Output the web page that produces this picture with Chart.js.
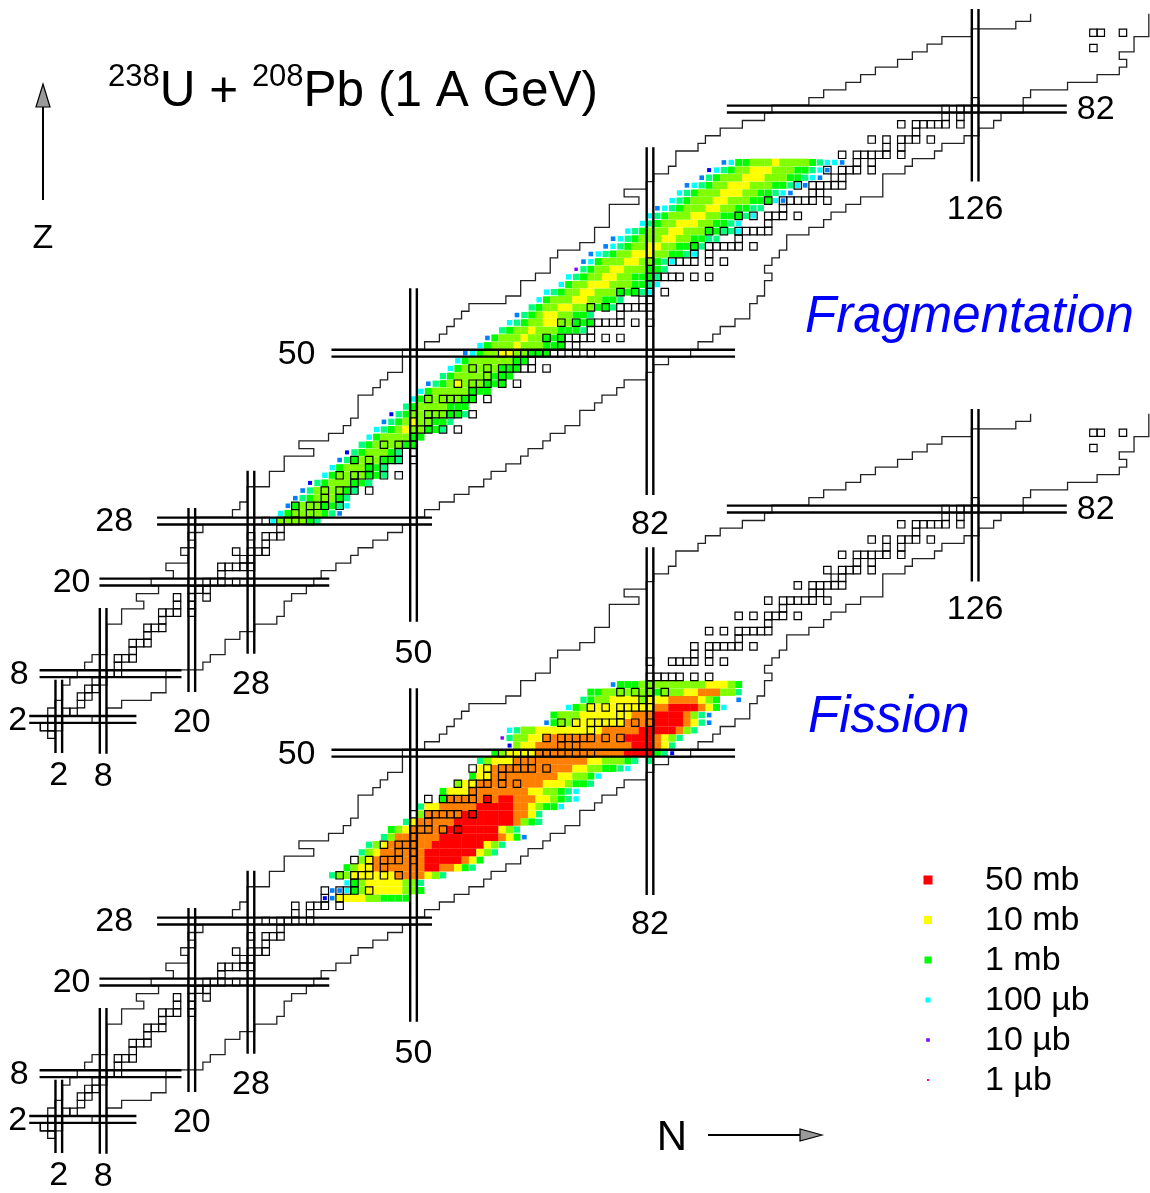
<!DOCTYPE html>
<html lang="en">
<head>
<meta charset="utf-8">
<title>238U + 208Pb (1 A GeV)</title>
<script src="https://cdn.jsdelivr.net/npm/chart.js@4.4.1/dist/chart.umd.min.js"></script>
<style>
  html, body { margin: 0; padding: 0; background: #ffffff; }
  #chartNuclides { display: block; }
</style>
</head>
<body>
<canvas id="chartNuclides" width="1150" height="1193" style="width:1150px;height:1193px"></canvas>
<script>
// magic numbers (double lines) and how far each line runs
const magicN = [2, 8, 20, 28, 50, 82, 126];
const magicNZFrom = [-2.4, -2.5, 5.6, 10.6, 14.8, 31.4, 72.5];
const magicNZTo = [7.2, 16.6, 29.7, 34.6, 58.5, 77.0, 95.1];
const magicZ = [2, 8, 20, 28, 50, 82];
const magicZNFrom = [-2.0, -0.6, 7.5, 15.3, 38.9, 92.4];
const magicZNTo = [12.5, 18.6, 38.6, 52.5, 93.5, 138.4];

// limits of the known nuclides, Z = 1 .. 94
const lightestN = [0,1,1,2,3,3,4,5,6,7, 9,9,9,9,11,11,14,13,16,15, 18,17,20,19,21,20,22,21,26,27,
  28,28,31,31,33,33,37,35,39,41, 42,43,43,43,45,46,47,49,49,49, 52,54,55,56,57,58,63,65,65,67,
  69,69,70,73,75,75,77,77,77,81, 79,82,83,85,86,86,89,90,92,95, 98,99,104,106,109,111,113,116,118,120,
  122,126,132,134];
const heaviestN = [2,6,8,10,14,16,16,16,21,22, 24,24,26,28,31,32,32,33,35,36, 37,39,41,42,44,46,48,50,51,53,
  55,57,59,60,62,64,65,67,68,70, 72,72,74,75,77,78,81,82,84,87, 88,90,91,93,95,95,96,97,97,98,
  97,98,99,100,100,103,105,106,108,110, 113,113,113,116,117,120,121,124,126,128, 129,132,132,133,138,142,145,146,145,147,
  147,149,149,149];

// stable (and primordial) nuclides: N values, index = Z
const stableN = [
  [1], [0,1], [1,2], [3,4], [5], [5,6], [6,7], [7,8], [8,9,10], [10],
  [10,11,12], [12], [12,13,14], [14], [14,15,16], [16], [16,17,18,20], [18,20], [18,20,22], [20,21,22],
  [20,22,23,24,26,28], [24], [24,25,26,27,28], [27,28], [26,28,29,30], [30], [28,30,31,32], [32], [30,32,33,34,36], [34,36],
  [34,36,37,38,40], [38,40], [38,40,41,42,44], [42], [40,42,43,44,46,48], [44,46], [42,44,46,47,48,50], [48,50], [46,48,49,50], [50],
  [50,51,52,54,56], [52], [50,52,53,54,55,56,58], [], [52,54,55,56,57,58,60], [58], [56,58,59,60,62,64], [60,62], [58,60,62,63,64,65,66,68], [64,66],
  [62,64,65,66,67,68,69,70,72,74], [70,72], [68,70,71,72,73,74,76,78], [74], [70,72,74,75,76,77,78,80,82], [78], [74,76,78,79,80,81,82], [81,82], [78,80,82,84], [82],
  [82,83,84,85,86,88,90], [], [82,85,86,87,88,90,92], [88,90], [88,90,91,92,93,94,96], [94], [90,92,94,95,96,97,98], [98], [94,96,98,99,100,102], [100],
  [98,100,101,102,103,104,106], [104,105], [102,104,105,106,107,108], [107,108], [106,108,109,110,112], [110,112], [108,110,111,112,113,114,116], [114,116], [112,114,116,117,118,120], [118],
  [116,118,119,120,121,122,124], [122,124], [122,124,125,126], [126], [], [], [], [], [], [],
  [142], [], [142,143,146]
];

// cross-section levels (code letter -> mb)
const levelCode = ['r', 'o', 'y', 'l', 'g', 'm', 'c', 'a', 'b', 'v'];
const levelMb = [50, 20, 10, 3, 1, 0.3, 0.1, 0.03, 0.02, 0.01];

// fragmentation residues: Z, first N, cells along N (letter + repeat count)
const fragZ = [28,29,30,31,32,33,34,35,36,37, 38,39,40,41,42,43,44,45,46,47, 48,49,50,51,52,53,54,55,56,57,
  58,59,60,61,62,63,64,65,66,67, 68,69,70,71,72,73,74,75];
const fragN0 = [31,32,33,34,35,36,38,39,40,41, 43,44,45,46,47,49,50,51,52,54, 55,56,57,59,60,62,63,64,66,67,
  68,70,71,72,73,74,76,77,79,81, 82,83,85,86,87,89,90,92];
const fragRows = [
  'c l4 g m', 'c g l4 g m a', 'a g l3 g2 m c', 'a m g l3 g m', 'a m l4 g m',
  'b m g l3 g2 m', 'c g l4 g2 m', 'c g l3 g2 m', 'a m g l3 g2 m', 'b m g l3 g m',
  'm g l4 g2', 'c g l4 g2', 'c m g l y l2 g2 m', 'a m g l y l2 g2 m', 'b m g l5 g2 m',
  'm g l4 g3', 'c g l5 g2', 'c g l5 g3', 'a m g l y l3 g3', 'm g l5 g3',
  'c g l5 g3', 'c g l6 g2', 'a c g l2 y2 l2 g3', 'c g l3 y l3 g3', 'a g l3 y l2 g3',
  'm g l2 y l3 g3 m', 'c m g l2 y2 l2 g3', 'a m g l y2 l2 g2 m', 'm g l2 y2 l3 g2 m', 'c g l3 y2 l2 g2 m',
  'c m g l2 y2 l3 g3 m c', 'c g l2 y3 l3 g2 m c', 'c m g l2 y2 l2 g3 m', 'v m g l2 y2 l3 g2 m', 'a c g l3 y2 l2 g m c',
  'a c m g l2 y3 l2 g2 m c', 'a c m g l2 y2 l2 g3 m', 'a c m g l3 y2 l2 g2 m2', 'c m g l3 y2 l3 g2 m2 c', 'c m g l2 y3 l2 g2 m c',
  'c m g l3 y2 l2 g3 m c', 'a c m g l3 y2 l2 g2 m2', 'c m g l3 y2 l3 g3 c a', 'c m g l3 y3 l2 g2 m c a', 'a c m g l2 y3 l3 g2 m c a',
  'a m g l3 y3 l3 g2 m c a', 'b c m g l2 y3 l3 g2 m c a', 'a c g2 l3 y l4 g m c2 a'
];

// fission residues
const fissZ = [31,32,33,34,35,36,37,38,39,40, 41,42,43,44,45,46,47,48,49,50, 51,52,53,54,55,56,57,58,59];
const fissN0 = [38,39,41,39,41,43,43,44,46,47, 49,51,51,54,54,56,58,59,59,61, 63,62,63,68,69,71,73,74,77];
const fissRows = [
  'b a y4 l2 g4', 'a2 c g l y5 l2 g', 'c g l y5 l2 m', 'm l2 y6 o4 y l m', 'g l y2 o7 r2 o2 y g m',
  'l y o7 r5 o y g', 'm l y o6 r7 y l m', 'm l y o6 r7 y l m', 'm l o6 r8 o y g a', 'g l y o5 r7 y l m',
  'm y o5 r8 o l g m', 'l o5 r7 o2 y m', 'm y2 o5 r5 o2 y l g2 c', 'g o5 r o r2 o3 y2 l g m c', 'g y3 o8 y2 l2 g m c',
  'l y2 o9 y3 l g2 m', 'g y2 o9 y2 l2 g c', 'y2 o11 y2 l2 g2 m c', 'm l y3 o10 y2 l3 g m . m', 'g l y4 o12 r4 g m b',
  'b l y2 o13 r3 o y m', 'v m l2 y2 o11 r4 o y l m', 'c m l2 y9 o5 r5 o l m', 'a g l2 y7 o4 r4 o y m a', 'g l3 y7 o3 r4 o l m a',
  'c g l y9 o2 r4 o y g c', 'm g l2 y4 l y3 o4 y l g . . a', 'g2 l7 g l3 y2 o3 l2 m', 'a g3 l9 y3 l g'
];

const legendLabel = ['50 mb', '10 mb', '1 mb', '100 µb', '10 µb', '1 µb'];
const legendMb = [50, 10, 1, 0.1, 0.01, 0.001];

// ---- style ----
const levelColor = ['#ff0000', '#ff8000', '#ffff00', '#80ff00', '#00ff00', '#00ff80', '#00ffff', '#0080ff', '#0000ff', '#8000ff'];
const levelSide = [7.8, 7.8, 7.6, 7.6, 7.0, 6.3, 5.4, 4.6, 4.0, 3.4];
const legendColor = ['#ff0000', '#ffff00', '#00ff00', '#00ffff', '#8000ff', '#ff0080'];
const legendSide = [9, 8, 7, 5, 3.5, 2];
const nLabelGap = [23, 23, 31, 31, 32, 30, 28];
const zLabelGap = [2, 11, 9, 24, 16, 10];
const labelFont = '34px "Liberation Sans", Arial, sans-serif';

function cellsFrom(zList, n0List, rowList) {
  const out = [];
  zList.forEach((z, i) => {
    let n = n0List[i];
    rowList[i].split(' ').forEach(tok => {
      const k = levelCode.indexOf(tok[0]);
      const count = tok.length > 1 ? parseInt(tok.slice(1), 10) : 1;
      for (let j = 0; j < count; j++, n++) {
        if (k >= 0) out.push({ x: n, y: z, level: k, mb: levelMb[k] });
      }
    });
  });
  return out;
}

function stablePoints() {
  const out = [];
  stableN.forEach((list, z) => list.forEach(n => out.push({ x: n, y: z })));
  return out;
}

// outline of the known region: heavy side downwards, then light side upwards
function outlinePoints() {
  const heavy = [], light = [];
  heaviestN.forEach((n, i) => {
    const z = i + 1;
    heavy.push({ x: n + 0.5, y: z - 0.5 }, { x: n + 0.5, y: z + 0.5 });
  });
  lightestN.forEach((n, i) => {
    const z = i + 1;
    light.push({ x: n - 0.5, y: z - 0.5 }, { x: n - 0.5, y: z + 0.5 });
  });
  return heavy.reverse().concat(light);
}

function magicPoints() {
  const out = [];
  magicN.forEach((n, i) => {
    [-0.45, 0.45].forEach(d => {
      out.push({ x: n + d, y: magicNZFrom[i] }, { x: n + d, y: magicNZTo[i] }, { x: n + d, y: null });
    });
  });
  magicZ.forEach((z, i) => {
    [-0.45, 0.45].forEach(d => {
      out.push({ x: magicZNFrom[i], y: z + d }, { x: magicZNTo[i], y: z + d }, { x: magicZNTo[i], y: null });
    });
  });
  return out;
}

function cellDataset(data, axis) {
  return {
    data: data, yAxisID: axis, order: 3, showLine: false,
    pointStyle: 'rect',
    pointRadius: c => c.raw ? levelSide[c.raw.level] / Math.SQRT2 : 0,
    pointBackgroundColor: c => c.raw ? levelColor[c.raw.level] : '#000',
    pointBorderWidth: 0
  };
}

function lineDataset(data, axis, width, color, order) {
  return {
    data: data, yAxisID: axis, order: order, showLine: true, spanGaps: false,
    pointRadius: 0, borderWidth: width, borderColor: color, fill: false, tension: 0
  };
}

function stableDataset(axis) {
  return {
    data: stablePoints(), yAxisID: axis, order: 1, showLine: false,
    pointStyle: 'rect', pointRadius: 7.4 / Math.SQRT2,
    pointBackgroundColor: 'rgba(0,0,0,0)', pointBorderColor: '#000', pointBorderWidth: 1.2
  };
}

const datasets = [];
['y', 'y2'].forEach(axis => {
  datasets.push(lineDataset(outlinePoints(), axis, 1.3, '#222', 2));
  datasets.push(stableDataset(axis));
  datasets.push(lineDataset(magicPoints(), axis, 2.4, '#000', 0));
});
datasets.push(cellDataset(cellsFrom(fragZ, fragN0, fragRows), 'y'));
datasets.push(cellDataset(cellsFrom(fissZ, fissN0, fissRows), 'y2'));

// texts, arrows and legend
const annotate = {
  id: 'annotate',
  afterDraw(chart) {
    const ctx = chart.ctx;
    const xs = chart.scales.x;
    ctx.save();
    ctx.fillStyle = '#000';
    ctx.font = labelFont;

    [chart.scales.y, chart.scales.y2].forEach(ys => {
      ctx.textAlign = 'center';
      ctx.textBaseline = 'middle';
      magicN.forEach((n, i) => {
        ctx.fillText(String(n), xs.getPixelForValue(n), ys.getPixelForValue(magicNZFrom[i]) + nLabelGap[i]);
      });
      magicZ.forEach((z, i) => {
        const y = ys.getPixelForValue(z) + 1;
        if (z === 82) {
          ctx.textAlign = 'left';
          ctx.fillText(String(z), xs.getPixelForValue(magicZNTo[i]) + zLabelGap[i], y);
        } else {
          ctx.textAlign = 'right';
          ctx.fillText(String(z), xs.getPixelForValue(magicZNFrom[i]) - zLabelGap[i], y);
        }
      });
    });

    // title
    ctx.textAlign = 'left';
    ctx.textBaseline = 'alphabetic';
    let tx = 108;
    [['238', true], ['U + ', false], ['208', true], ['Pb (1 A GeV)', false]].forEach(p => {
      ctx.font = p[1] ? '31px "Liberation Sans", Arial, sans-serif' : '49.5px "Liberation Sans", Arial, sans-serif';
      ctx.fillText(p[0], tx, p[1] ? 86 : 106);
      tx += ctx.measureText(p[0]).width;
    });

    // axis arrows
    ctx.strokeStyle = '#000';
    ctx.lineWidth = 2;
    ctx.beginPath();
    ctx.moveTo(43, 200); ctx.lineTo(43, 106);
    ctx.moveTo(708, 1135); ctx.lineTo(801, 1135);
    ctx.stroke();
    ctx.fillStyle = '#9a9a9a';
    ctx.lineWidth = 1.2;
    ctx.beginPath();
    ctx.moveTo(43, 84); ctx.lineTo(50, 107); ctx.lineTo(36, 107); ctx.closePath();
    ctx.fill(); ctx.stroke();
    ctx.beginPath();
    ctx.moveTo(822, 1135); ctx.lineTo(800, 1129); ctx.lineTo(800, 1141); ctx.closePath();
    ctx.fill(); ctx.stroke();

    ctx.fillStyle = '#000';
    ctx.textAlign = 'center';
    ctx.textBaseline = 'middle';
    ctx.font = labelFont;
    ctx.fillText('Z', 43, 239);
    ctx.font = '42px "Liberation Sans", Arial, sans-serif';
    ctx.fillText('N', 672, 1138);

    // panel names
    ctx.fillStyle = '#0000ff';
    ctx.textAlign = 'left';
    ctx.textBaseline = 'alphabetic';
    ctx.font = 'italic 51px "Liberation Sans", Arial, sans-serif';
    ctx.fillText('Fragmentation', 805, 332);
    ctx.fillText('Fission', 808, 732);

    // legend
    ctx.font = labelFont;
    ctx.textBaseline = 'middle';
    legendLabel.forEach((txt, i) => {
      const y = 880 + i * 40;
      const s = legendSide[i];
      ctx.fillStyle = legendColor[i];
      ctx.fillRect(928 - s / 2, y - s / 2, s, s);
      ctx.fillStyle = '#000';
      ctx.fillText(txt, 985, y + 1);
    });
    ctx.restore();
  }
};

new Chart(document.getElementById('chartNuclides'), {
  type: 'scatter',
  data: { datasets: datasets },
  options: {
    responsive: false,
    animation: false,
    events: [],
    layout: { padding: 0, autoPadding: false },
    plugins: { legend: { display: false }, tooltip: { enabled: false } },
    scales: {
      x: { type: 'linear', min: -5.957, max: 149.659, display: false },
      y: { type: 'linear', min: -60.065, max: 96.291, display: false },
      y2: { type: 'linear', min: -7.64, max: 148.716, display: false }
    }
  },
  plugins: [annotate]
});
</script>
</body>
</html>
